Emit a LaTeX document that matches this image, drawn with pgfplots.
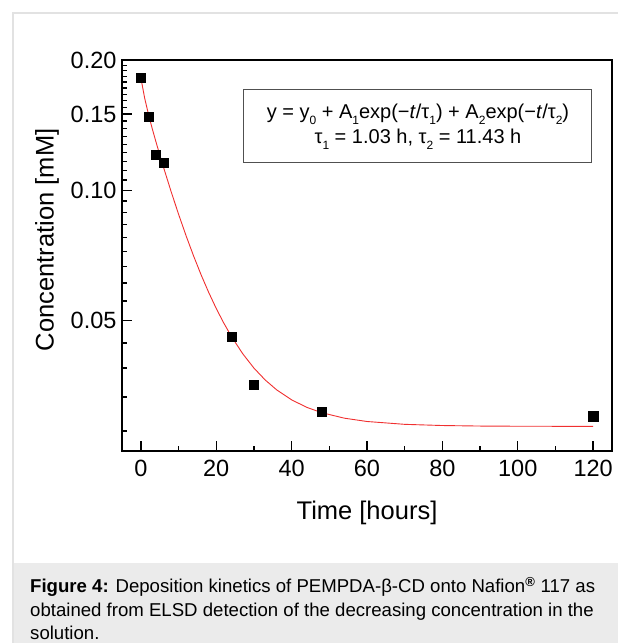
\documentclass[border=0pt]{standalone}
\usepackage{fontspec}
\setmainfont{Liberation Sans}
\usepackage{pgfplots}
\pgfplotsset{compat=1.18}
\definecolor{framegray}{HTML}{E2E2E2}
\definecolor{capgray}{HTML}{EBEBEB}
\definecolor{fitred}{HTML}{F03030}
\definecolor{boxline}{HTML}{505050}
\newcommand\sub[1]{\raisebox{-0.55ex}{\fontsize{12pt}{12pt}\selectfont #1}}

\begin{document}
\begin{tikzpicture}[x=1pt,y=1pt]
\path[use as bounding box] (0,0) rectangle (618,643);
\fill[capgray] (13,0) rectangle (618,80);
\draw[framegray, line width=2pt] (13,0) -- (13,630) -- (618,630);

\begin{axis}[
  at={(122pt,192pt)}, anchor=south west,
  width=490pt, height=391pt, scale only axis,
  xmin=-5, xmax=125,
  ymode=log, ymin=0.025, ymax=0.2,
  xtick={0,20,...,120},
  minor xtick={10,30,...,110},
  ytick={0.05,0.1,0.15,0.2},
  yticklabels={0.05,0.10,0.15,0.20},
  minor ytick={0.02778,0.03333,0.03889,0.04444,
    0.05556,0.06111,0.06667,0.07222,0.07778,0.08333,0.08889,0.09444,
    0.10556,0.11111,0.11667,0.12222,0.12778,0.13333,0.13889,0.14444,
    0.15556,0.16111,0.16667,0.17222,0.17778,0.18333,0.18889,0.19444},
  xtick pos=bottom, ytick pos=left,
  tick align=inside,
  major tick length=10pt, minor tick length=5pt,
  every tick/.style={black, line width=1.4pt},
  axis line style={line width=1.6pt},
  /pgf/number format/assume math mode=true,
  tick label style={font=\fontsize{23.5pt}{27pt}\selectfont},
  xticklabel style={yshift=-6pt},
  yticklabel style={xshift=-2pt},
  xlabel={Time [hours]},
  ylabel={Concentration [mM]},
  label style={font=\fontsize{25.5pt}{30pt}\selectfont},
  xlabel style={at={(axis description cs:0.5,-0.159)}, anchor=center},
  ylabel style={at={(axis description cs:-0.153,0.54)}, anchor=center},
  clip=true,
]
\addplot[color=fitred, line width=0.9pt, no marks] coordinates {
  (0,0.18200) (1,0.16350) (2,0.15005) (3,0.13906) (4,0.12949) (5,0.12091)
  (6,0.11313) (8,0.09953) (10,0.08812) (12,0.07855) (14,0.07051) (16,0.06377)
  (18,0.05811) (20,0.05336) (22,0.04937) (24,0.04602) (27,0.04197) (30,0.03886)
  (33,0.03647) (36,0.03463) (40,0.03282) (44,0.03154) (48,0.03065) (54,0.02977)
  (60,0.02925) (70,0.02881) (80,0.02863) (90,0.02855) (100,0.02852) (120,0.02850)
};
\addplot[only marks, mark=square*, mark size=4.6pt, mark options={fill=black, draw=black}] coordinates {
  (0,0.182) (2,0.148) (4,0.121) (6,0.116) (24,0.0459) (30,0.0356) (48,0.0308) (120,0.0301)
};
\node[draw=boxline, line width=1pt, fill=white, minimum width=348pt, minimum height=73pt,
  align=center, font=\fontsize{20pt}{25pt}\selectfont, inner sep=0pt]
  at (axis description cs:0.604,0.830)
  {y = y\sub{0} + A\sub{1}exp(−\textit{t}/τ\sub{1}) + A\sub{2}exp(−\textit{t}/τ\sub{2})\\
   τ\sub{1} = 1.03 h, τ\sub{2} = 11.43 h};
\end{axis}

\begin{scope}[every node/.style={anchor=base west, inner sep=0pt, font=\fontsize{18.6pt}{24pt}\selectfont}]
\node at (30,50.5) {\textbf{Figure 4:} Deposition kinetics of PEMPDA-β-CD onto Nafion\textsuperscript{\textbf{®}} 117 as};
\node at (30,26.5) {obtained from ELSD detection of the decreasing concentration in the};
\node at (30,3) {solution.};
\end{scope}
\end{tikzpicture}
\end{document}
